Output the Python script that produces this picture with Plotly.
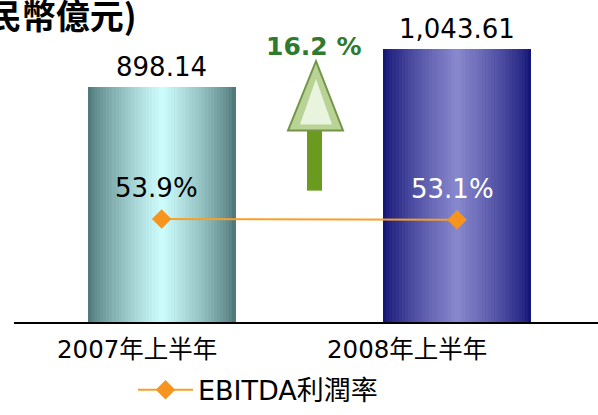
import plotly.graph_objects as go

# ---- data ----
categories = ["2007年上半年", "2008年上半年"]
revenue = [898.14, 1043.61]
revenue_labels = ["898.14", "1,043.61"]
margin_pct = [53.9, 53.1]
margin_labels = ["53.9%", "53.1%"]
growth_label = "16.2 %"
unit_title = "(人民幣億元)"
series_name = "EBITDA利潤率"

# ---- layout geometry (pixels) ----
W, H = 598, 415
ML, MR, MT, MB = 14, 0, 0, 89
PW, PH = W - ML - MR, H - MT - MB

def px(xp):
    return (xp - ML) / PW

def py(yp):
    return (H - MB - yp) / PH

FONT = "DejaVu Sans, Noto Sans CJK TC, sans-serif"
cat_label_shift = [-25, -50]

edge_cols = [(80, 122, 124), (22, 22, 120)]
center_cols = [(205, 252, 252), (135, 135, 205)]
bar_width = 0.5
N = 24

fig = go.Figure()
idx = list(range(len(categories)))
for k in range(N):
    t = k / (N - 1)
    t2 = t ** 0.8
    cols = []
    for e, c in zip(edge_cols, center_cols):
        r = [round(e[i] + (c[i] - e[i]) * t2) for i in range(3)]
        cols.append(f"rgb({r[0]},{r[1]},{r[2]})")
    w = bar_width * (1 - k / N)
    fig.add_trace(go.Bar(
        x=idx, y=revenue, width=[w] * len(idx),
        marker=dict(color=cols, line=dict(width=0)),
        showlegend=False, hoverinfo="skip",
    ))

fig.add_trace(go.Scatter(
    x=idx, y=margin_pct, yaxis="y2", name=series_name,
    mode="lines+markers",
    line=dict(color="#F5A02A", width=2),
    marker=dict(symbol="diamond", size=15, color="#F7941D",
                line=dict(width=0)),
))

annotations = []
for i, (v, lab) in enumerate(zip(revenue, revenue_labels)):
    annotations.append(dict(x=i, y=v, xref="x", yref="y", text=lab,
                            showarrow=False, yanchor="middle", yshift=20,
                            font=dict(family=FONT, size=26, color="black")))
for i, (v, lab) in enumerate(zip(margin_pct, margin_labels)):
    annotations.append(dict(x=i, y=v, xref="x", yref="y2", text=lab,
                            showarrow=False, yanchor="middle", yshift=31,
                            xshift=-5,
                            font=dict(family=FONT, size=26,
                                      color="black" if i == 0 else "white")))
for i, lab in enumerate(categories):
    annotations.append(dict(x=i, y=0, xref="x", yref="paper", text=lab,
                            showarrow=False, yanchor="middle", yshift=-27,
                            xshift=cat_label_shift[i],
                            font=dict(family=FONT, size=24.5, color="black")))
annotations.append(dict(x=px(313), y=py(30), xref="paper", yref="paper",
                        text=f"<b>{growth_label}</b>", showarrow=False,
                        font=dict(family=FONT, size=25, color="#2E7A2E")))
annotations.append(dict(x=px(139), y=py(15), xref="paper", yref="paper",
                        text=f"<b>{unit_title}</b>", showarrow=False,
                        xanchor="right", yanchor="middle",
                        font=dict(family="Noto Sans CJK TC, sans-serif",
                                  size=34, color="black")))

shapes = [
    # arrow shaft
    dict(type="rect", xref="paper", yref="paper",
         x0=px(307), x1=px(322), y0=py(193), y1=py(131),
         fillcolor="#6B9B1E", line=dict(width=0), layer="above"),
    # arrow head
    dict(type="path", xref="paper", yref="paper",
         path=f"M {px(288)},{py(132)} L {px(343)},{py(132)} L {px(316)},{py(62)} Z",
         fillcolor="rgb(185,210,150)", line=dict(color="rgb(115,150,70)", width=2),
         layer="above"),
    dict(type="path", xref="paper", yref="paper",
         path=f"M {px(300)},{py(126)} L {px(332)},{py(126)} L {px(316)},{py(80)} Z",
         fillcolor="rgba(250,255,245,0.75)", line=dict(width=0),
         layer="above"),
]

fig.update_layout(
    width=W, height=H,
    margin=dict(l=ML, r=MR, t=MT, b=MB, pad=0),
    paper_bgcolor="white", plot_bgcolor="white",
    barmode="overlay", bargap=0,
    xaxis=dict(range=[-0.5, 1.477], showgrid=False, zeroline=False,
               showticklabels=False, ticks="", showline=True,
               linecolor="black", linewidth=1.5, fixedrange=True),
    yaxis=dict(range=[0, 1232.6], visible=False, fixedrange=True),
    yaxis2=dict(range=[-50, 275], overlaying="y", visible=False,
                fixedrange=True),
    showlegend=True,
    legend=dict(x=px(133), y=py(395), xanchor="left", yanchor="middle",
                orientation="h", bgcolor="rgba(0,0,0,0)",
                font=dict(family=FONT, size=27, color="black"),
                itemwidth=55),
    annotations=annotations,
    shapes=shapes,
)

fig.write_html("out.html", config={"displayModeBar": False},
               post_script="document.body.style.margin='0';document.body.style.overflow='hidden';")
